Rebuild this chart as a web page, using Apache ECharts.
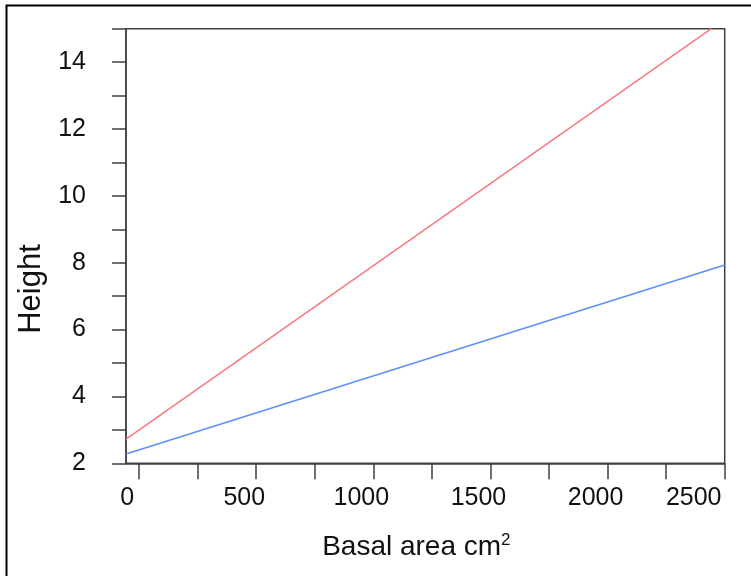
<!DOCTYPE html>
<html>
<head>
<meta charset="utf-8">
<script src="https://cdn.jsdelivr.net/npm/echarts@6/dist/echarts.min.js"></script>
<style>
html,body{margin:0;padding:0;background:#fff;}
#chart{width:751px;height:576px;}
</style>
</head>
<body>
<div id="chart"></div>
<script>
// Data
var xRange = [-56, 2500];
var yRange = [2, 15];
var xTickValues = [0, 250, 500, 750, 1000, 1250, 1500, 1750, 2000, 2250, 2500];
var xLabelValues = [0, 500, 1000, 1500, 2000, 2500];
var seriesNames = ['Fit A', 'Fit B'];
var redLine = [[-56, 2.72], [2443, 15.0]];
var blueLine = [[-56, 2.28], [2500, 7.93]];

var chart = echarts.init(document.getElementById('chart'), null, {renderer: 'canvas'});
var axisCol = '#404040';
var font = 'Liberation Sans, Arial, sans-serif';

chart.setOption({
  backgroundColor: '#fff',
  animation: false,
  graphic: [{
    type: 'rect',
    shape: {x: 6.5, y: 5.5, width: 900, height: 800},
    style: {fill: 'none', stroke: '#000', lineWidth: 2},
    silent: true, z: -1
  }],
  grid: {left: 126, top: 28.7, right: 26.3, bottom: 112.7, show: true, borderColor: axisCol, borderWidth: 1.5, backgroundColor: 'transparent'},
  xAxis: {
    type: 'value', min: xRange[0], max: xRange[1],
    name: 'Basal area cm{sup|2}', nameLocation: 'middle', nameGap: 69,
    nameTextStyle: {fontFamily: font, fontSize: 28, color: '#111', padding: [0, 18, 0, 0],
      rich: {sup: {fontFamily: font, fontSize: 17, color: '#111', verticalAlign: 'top', padding: [0, 0, 13, 0]}}},
    axisLine: {show: true, onZero: false, lineStyle: {color: axisCol, width: 1.5}},
    axisTick: {show: true, inside: false, length: 16, customValues: xTickValues, lineStyle: {color: axisCol, width: 1.5}},
    axisLabel: {customValues: xLabelValues, margin: 22, fontFamily: font, fontSize: 25, color: '#111', padding: [0, 24, 0, 0],
      formatter: function (v) { return v === 2500 ? '{e|' + v + '}' : String(v); },
      rich: {e: {fontFamily: font, fontSize: 25, color: '#111', padding: [0, 38, 0, 0]}}},
    splitLine: {show: false}
  },
  yAxis: {
    type: 'value', min: yRange[0], max: yRange[1], interval: 1,
    name: 'Height', nameLocation: 'middle', nameGap: 77,
    nameTextStyle: {fontFamily: font, fontSize: 31, color: '#111', padding: [0, 86, 0, 0]},
    axisLine: {show: true, onZero: false, lineStyle: {color: axisCol, width: 1.5}},
    axisTick: {show: true, inside: false, length: 14, lineStyle: {color: axisCol, width: 1.5}},
    axisLabel: {margin: 40, fontFamily: font, fontSize: 25, color: '#111',
      formatter: function (v) { return (v % 2 === 0 && v <= 14) ? String(v) : ''; }},
    splitLine: {show: false}
  },
  series: [
    {name: seriesNames[0], type: 'line', data: redLine, showSymbol: false, symbol: 'none',
      lineStyle: {color: '#f8787f', width: 1.5}, clip: true},
    {name: seriesNames[1], type: 'line', data: blueLine, showSymbol: false, symbol: 'none',
      lineStyle: {color: '#5e8ffa', width: 1.5}, clip: true}
  ]
});
</script>
</body>
</html>
